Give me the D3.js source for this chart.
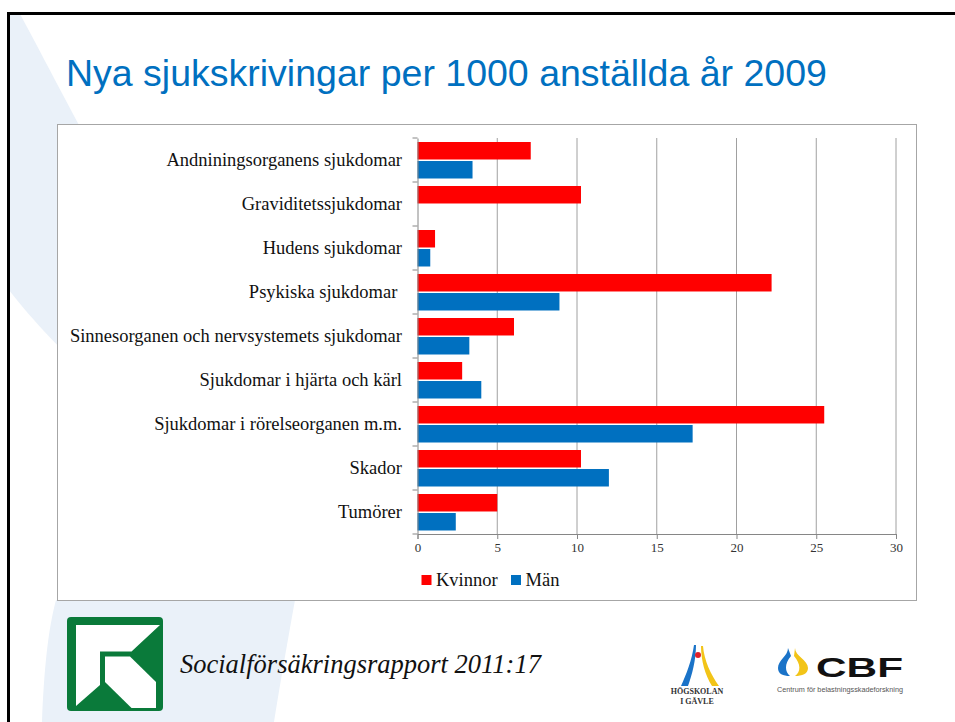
<!DOCTYPE html>
<html>
<head>
<meta charset="utf-8">
<script src="https://cdn.jsdelivr.net/npm/d3@7/dist/d3.min.js"></script>
<style>
  body { margin: 0; background: #fff; }
  svg { display: block; }
</style>
</head>
<body>
<svg id="canvas"></svg>
<script>
// Data
const categories = [
    "Andniningsorganens sjukdomar",
    "Graviditetssjukdomar",
    "Hudens sjukdomar",
    "Psykiska sjukdomar ",
    "Sinnesorganen och nervsystemets sjukdomar",
    "Sjukdomar i hjärta och kärl",
    "Sjukdomar i rörelseorganen m.m.",
    "Skador",
    "Tumörer"
];
const seriesNames = ["Kvinnor", "Män"];
const kvinnor = [7.1, 10.25, 1.1, 22.2, 6.05, 2.8, 25.5, 10.25, 5.0];
const man = [3.45, 0, 0.8, 8.9, 3.25, 4.0, 17.25, 12.0, 2.4];
const xTicks = [0, 5, 10, 15, 20, 25, 30];
const colors = ["#ff0000", "#0070c0"];

const width = 955;
const height = 722;

const svg = d3.select("#canvas")
    .attr("width", width)
    .attr("height", height);

// Slide background swoosh (top band and bottom band)
svg.append("path")
    .attr("d", "M9,14 L20,14 C45,60 70,110 120,200 L120,400 C80,370 40,330 9,290 Z")
    .attr("fill", "#eaf1f9");
svg.append("path")
    .attr("d", "M42,722 C44,670 48,630 56,600 L295,600 C286,650 279,690 274,722 Z")
    .attr("fill", "#eaf1f9");

// Slide frame (top and left edges visible)
svg.append("path")
    .attr("d", "M8.5,722 L8.5,13.5 L955,13.5")
    .attr("fill", "none")
    .attr("stroke", "#000")
    .attr("stroke-width", 3);

// Title
svg.append("text")
    .attr("x", 66)
    .attr("y", 86)
    .attr("font-family", "'Liberation Sans', Arial, sans-serif")
    .attr("font-size", 37.5)
    .attr("fill", "#0070c0")
    .text("Nya sjukskrivingar per 1000 anställda år 2009");

// Chart box
svg.append("rect")
    .attr("x", 57.5)
    .attr("y", 124.5)
    .attr("width", 859)
    .attr("height", 476)
    .attr("fill", "#fff")
    .attr("stroke", "#a6a6a6")
    .attr("stroke-width", 1);

const x = d3.scaleLinear().domain([0, 30]).range([417.5, 896]);
const y = d3.scaleBand().domain(categories).range([138, 534]);
const ySub = d3.scaleBand().domain(seriesNames).range([4, 40.5]).paddingInner(0.08);

const plot = svg.append("g");

// Vertical gridlines
plot.selectAll(".grid")
    .data(xTicks.slice(1))
    .enter()
    .append("line")
    .attr("x1", d => x(d))
    .attr("x2", d => x(d))
    .attr("y1", 138)
    .attr("y2", 534)
    .attr("stroke", "#a0a0a0")
    .attr("stroke-width", 1);

// Bars
const rows = categories.map((c, i) => ({ cat: c, values: [kvinnor[i], man[i]] }));

const groups = plot.selectAll(".row")
    .data(rows)
    .enter()
    .append("g")
    .attr("transform", d => `translate(0,${y(d.cat)})`);

groups.selectAll("rect")
    .data(d => d.values.map((v, j) => ({ series: seriesNames[j], value: v, idx: j })))
    .enter()
    .append("rect")
    .attr("x", x(0))
    .attr("y", d => ySub(d.series))
    .attr("width", d => x(d.value) - x(0))
    .attr("height", ySub.bandwidth())
    .attr("fill", d => colors[d.idx]);

// Bottom axis
const xAxis = d3.axisBottom(x).tickValues(xTicks).tickSize(5).tickPadding(4);
const gx = plot.append("g")
    .attr("transform", "translate(0,534)")
    .call(xAxis);
gx.select(".domain").attr("stroke", "#868686");
gx.selectAll(".tick line").attr("stroke", "#868686");
gx.selectAll(".tick text")
    .attr("font-family", "'Liberation Serif', 'Times New Roman', serif")
    .attr("font-size", 13)
    .attr("fill", "#333");

// Left axis with ticks at category boundaries
const yAxis = d3.axisLeft(y).tickSize(0).tickPadding(15.5);
const gy = plot.append("g")
    .attr("transform", `translate(${x(0)},0)`)
    .call(yAxis);
gy.select(".domain").attr("stroke", "#868686");
gy.selectAll(".tick text")
    .attr("font-family", "'Liberation Serif', 'Times New Roman', serif")
    .attr("font-size", 18.5)
    .attr("fill", "#111")
    .style("white-space", "pre");

const boundaries = categories.map(c => y(c)).concat([534]);
plot.selectAll(".ytick")
    .data(boundaries)
    .enter()
    .append("line")
    .attr("x1", x(0) - 5)
    .attr("x2", x(0))
    .attr("y1", d => d)
    .attr("y2", d => d)
    .attr("stroke", "#868686");

// Legend
const legendX = [421.5, 511];
const legend = svg.selectAll(".legend")
    .data(seriesNames)
    .enter()
    .append("g")
    .attr("transform", (d, i) => `translate(${legendX[i]},575)`);
legend.append("rect")
    .attr("width", 10)
    .attr("height", 10)
    .attr("fill", (d, i) => colors[i]);
legend.append("text")
    .attr("x", 14.5)
    .attr("y", 11)
    .attr("font-family", "'Liberation Serif', 'Times New Roman', serif")
    .attr("font-size", 18.5)
    .attr("fill", "#111")
    .text(d => d);

// Footer: Försäkringskassan logo
const logo = svg.append("g");
logo.append("rect")
    .attr("x", 67).attr("y", 617)
    .attr("width", 96).attr("height", 94)
    .attr("rx", 4)
    .attr("fill", "#0a7a3a");
logo.append("path")
    .attr("d", "M76,625 L160,625 L131.5,651.5 L100,651.5 L100,685 L76,706 Z")
    .attr("fill", "#fff");
logo.append("path")
    .attr("d", "M105,656.5 L130,656.5 L156,682 L156,708 L131.5,708 L105,682 Z")
    .attr("fill", "#fff");

svg.append("text")
    .attr("x", 180)
    .attr("y", 673)
    .attr("font-family", "'Liberation Serif', 'Times New Roman', serif")
    .attr("font-style", "italic")
    .attr("font-size", 26.5)
    .attr("fill", "#111")
    .text("Socialförsäkringsrapport 2011:17");

// Högskolan i Gävle logo
const hig = svg.append("g");
hig.append("path")
    .attr("d", "M694,645 C692,660 686,675 681,686 L688,686 C692,675 696,660 696,645 Z")
    .attr("fill", "#1a73c8");
hig.append("path")
    .attr("d", "M701,646 C701,660 705,675 712,686 L719,686 C711,675 704,660 703,646 Z")
    .attr("fill", "#f2c418");
hig.append("circle")
    .attr("cx", 698).attr("cy", 655).attr("r", 3)
    .attr("fill", "#e0202a");
hig.append("text")
    .attr("x", 697).attr("y", 694)
    .attr("text-anchor", "middle")
    .attr("font-family", "'Liberation Serif', 'Times New Roman', serif")
    .attr("font-weight", "bold")
    .attr("font-size", 8)
    .attr("fill", "#333")
    .text("HÖGSKOLAN");
hig.append("text")
    .attr("x", 697).attr("y", 704)
    .attr("text-anchor", "middle")
    .attr("font-family", "'Liberation Serif', 'Times New Roman', serif")
    .attr("font-weight", "bold")
    .attr("font-size", 8)
    .attr("fill", "#333")
    .text("I GÄVLE");

// CBF logo
const cbf = svg.append("g");
cbf.append("path")
    .attr("d", "M788,648 C788,656 778,660 778,668 C778,674 783,676 790,676 C785,672 784,664 791,656 Z")
    .attr("fill", "#1a73c8");
cbf.append("path")
    .attr("d", "M795,648 C795,656 808,660 808,668 C808,674 802,676 795,676 C801,672 801,664 794,656 Z")
    .attr("fill", "#f2c418");
cbf.append("text")
    .attr("x", 816).attr("y", 677)
    .attr("font-family", "'Liberation Sans', Arial, sans-serif")
    .attr("font-weight", "bold")
    .attr("font-size", 28)
    .attr("textLength", 87)
    .attr("lengthAdjust", "spacingAndGlyphs")
    .attr("fill", "#111")
    .text("CBF");
cbf.append("text")
    .attr("x", 777).attr("y", 692)
    .attr("font-family", "'Liberation Sans', Arial, sans-serif")
    .attr("font-size", 6.5)
    .attr("textLength", 126)
    .attr("lengthAdjust", "spacingAndGlyphs")
    .attr("fill", "#555")
    .text("Centrum för belastningsskadeforskning");
</script>
</body>
</html>
